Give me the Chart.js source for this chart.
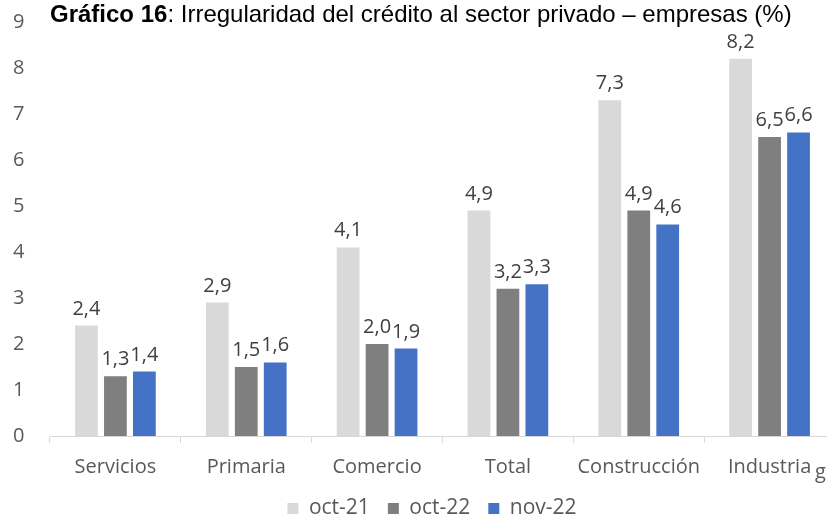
<!DOCTYPE html>
<html>
<head>
<meta charset="utf-8">
<script src="https://cdn.jsdelivr.net/npm/chart.js@4.4.0/dist/chart.umd.min.js"></script>
<style>
  html, body { margin: 0; padding: 0; background: #fff; overflow: hidden; }
  #wrap { position: relative; width: 862px; height: 517px; }
  #title {
    position: absolute; left: 50px; top: 2px; white-space: nowrap;
    font-family: "Liberation Sans", Arial, sans-serif; font-size: 24px; line-height: 1; color: #000;
  }
  #stray {
    position: absolute; left: 815px; top: 461px;
    font-family: "Open Sans", sans-serif; font-size: 20px; line-height: 1; color: #595959;
  }
</style>
</head>
<body>
<div id="wrap">
  <canvas id="myChart" width="862" height="517"></canvas>
  <div id="title"><b>Gráfico 16</b>: Irregularidad del crédito al sector privado – empresas (%)</div>
  <div id="stray">g</div>
</div>
<script>
const categories = ['Servicios', 'Primaria', 'Comercio', 'Total', 'Construcción', 'Industria'];
const oct21 = [2.4, 2.9, 4.1, 4.9, 7.3, 8.2];
const oct22 = [1.3, 1.5, 2.0, 3.2, 4.9, 6.5];
const nov22 = [1.4, 1.6, 1.9, 3.3, 4.6, 6.6];
const yMin = 0;
const yMax = 9;

// value labels above each bar, with comma decimals
const valueLabels = {
    id: 'valueLabels',
    afterDatasetsDraw(chart) {
        const ctx = chart.ctx;
        ctx.save();
        ctx.font = '20px "Open Sans"';
        ctx.fillStyle = '#404040';
        ctx.textAlign = 'center';
        ctx.textBaseline = 'alphabetic';
        chart.data.datasets.forEach((ds, i) => {
            chart.getDatasetMeta(i).data.forEach((bar, j) => {
                ctx.fillText(ds.data[j].toFixed(1).replace('.', ','), bar.x, bar.y - 11);
            });
        });
        ctx.restore();
    }
};

new Chart(document.getElementById('myChart'), {
    type: 'bar',
    data: {
        labels: categories,
        datasets: [
            { label: 'oct-21', data: oct21, backgroundColor: '#D9D9D9' },
            { label: 'oct-22', data: oct22, backgroundColor: '#7F7F7F' },
            { label: 'nov-22', data: nov22, backgroundColor: '#4472C4' }
        ]
    },
    options: {
        responsive: false,
        animation: false,
        devicePixelRatio: 1,
        categoryPercentage: 0.664,
        barPercentage: 0.786,
        // canvas is wider than the window: the right end is cut off like the original
        layout: { padding: { top: 22, right: 27, bottom: -12, left: 29 } },
        plugins: {
            tooltip: { enabled: false },
            legend: {
                position: 'bottom',
                labels: {
                    boxWidth: 11,
                    boxHeight: 11,
                    padding: 18,
                    color: '#595959',
                    font: { family: 'Open Sans', size: 21 }
                }
            }
        },
        scales: {
            x: {
                grid: {
                    display: true,
                    drawOnChartArea: false,
                    offset: true,
                    tickLength: 7,
                    color: '#D9D9D9'
                },
                border: { color: '#D9D9D9' },
                ticks: {
                    color: '#595959',
                    padding: 12,
                    font: { family: 'Open Sans', size: 20 }
                },
                afterFit: s => { s.height = 44; }
            },
            y: {
                min: yMin,
                max: yMax,
                grid: { display: false },
                border: { display: false },
                ticks: {
                    mirror: true,
                    stepSize: 1,
                    padding: -37,
                    color: '#595959',
                    font: { family: 'Open Sans', size: 20 }
                },
                afterFit: s => { s.width = 21; }
            }
        }
    },
    plugins: [valueLabels]
});
</script>
</body>
</html>
